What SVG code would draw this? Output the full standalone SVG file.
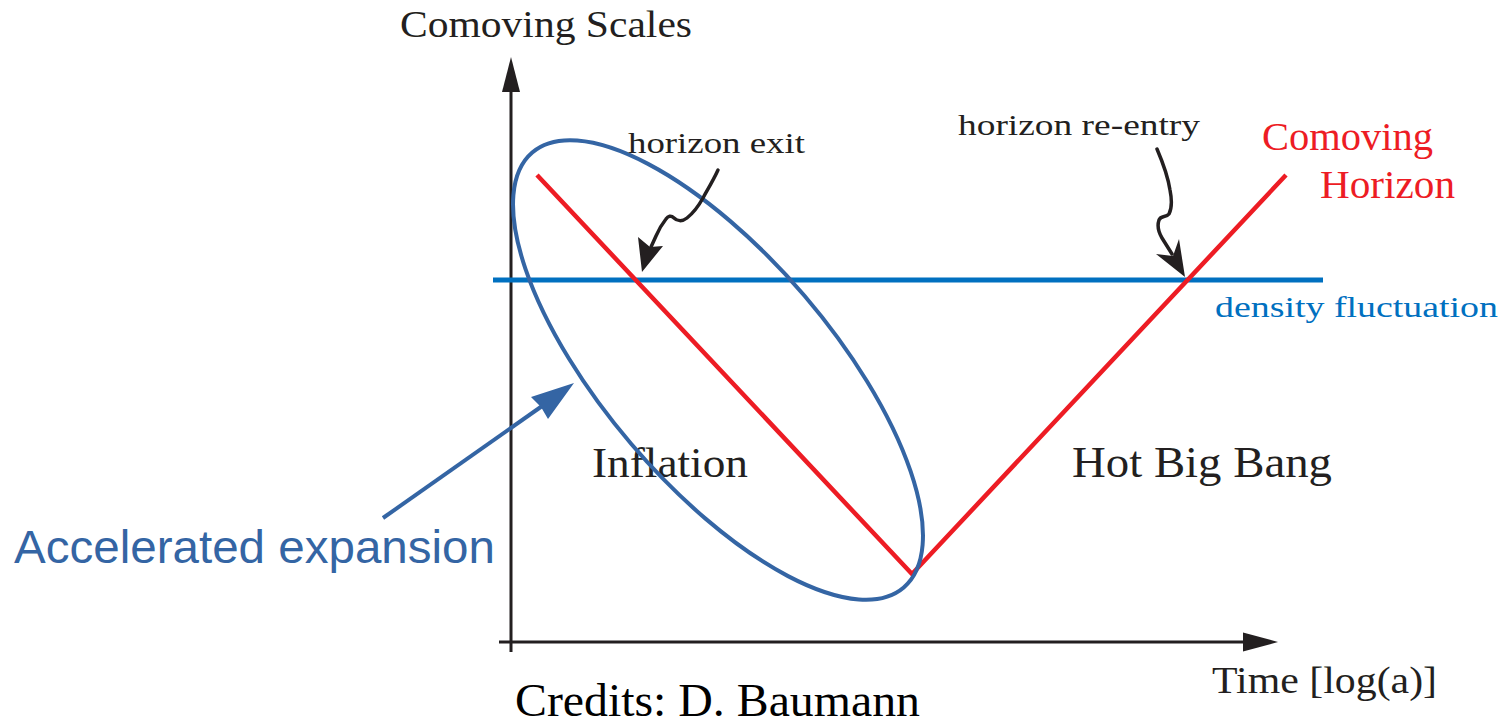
<svg xmlns="http://www.w3.org/2000/svg" width="1504" height="725" viewBox="0 0 1504 725">
<style>
.serif{font-family:"Liberation Serif","Times New Roman",serif;fill:#231F20}
.sans{font-family:"Liberation Sans",Arial,sans-serif}
.ax{stroke:#231F20;stroke-width:3;fill:none}
.blk{stroke:#231F20;stroke-width:3.5;fill:none;stroke-linecap:round}
.head{fill:#231F20}
</style>
<rect width="1504" height="725" fill="#ffffff"/>
<g id="axes">
<line class="ax" x1="511" y1="652" x2="511" y2="90"/>
<polygon class="head" points="511,57 502,92 520,92"/>
<line class="ax" x1="499" y1="642" x2="1245" y2="642"/>
<polygon class="head" points="1278,642 1243,632.5 1243,651.5"/>
<text class="serif" x="400" y="37" font-size="37" textLength="292" lengthAdjust="spacingAndGlyphs">Comoving Scales</text>
<text class="serif" x="1212" y="693" font-size="38" textLength="225" lengthAdjust="spacingAndGlyphs">Time [log(a)]</text>
</g>
<g id="labels">
<text class="serif" x="592" y="477" font-size="43" textLength="156" lengthAdjust="spacingAndGlyphs">Inflation</text>
<text class="serif" x="1072" y="477" font-size="44" textLength="260" lengthAdjust="spacingAndGlyphs">Hot Big Bang</text>
<text class="serif" x="515" y="716" font-size="47" style="fill:#000" textLength="405" lengthAdjust="spacingAndGlyphs">Credits: D. Baumann</text>
</g>
<g id="density-fluctuation">
<line x1="493" y1="280" x2="1323" y2="280" stroke="#0070C0" stroke-width="5"/>
<text x="1215" y="317" font-size="30" class="serif" style="fill:#0070C0" textLength="283" lengthAdjust="spacingAndGlyphs">density fluctuation</text>
</g>
<g id="comoving-horizon">
<polyline points="537,175 912,574 1286,175" fill="none" stroke="#ED1C24" stroke-width="4.5"/>
<text x="1262" y="150" font-size="39" class="serif" style="fill:#ED1C24" textLength="171" lengthAdjust="spacingAndGlyphs">Comoving</text>
<text x="1320" y="198" font-size="39" class="serif" style="fill:#ED1C24" textLength="135" lengthAdjust="spacingAndGlyphs">Horizon</text>
</g>
<g id="inflation-ellipse">
<ellipse cx="718" cy="370" rx="286" ry="114" transform="rotate(49.5 718 370)" fill="none" stroke="#3465A4" stroke-width="4"/>
</g>
<g id="horizon-exit">
<text class="serif" x="628" y="153" font-size="29" textLength="177" lengthAdjust="spacingAndGlyphs">horizon exit</text>
</g>
<g id="horizon-reentry">
<text class="serif" x="958" y="135" font-size="29" textLength="242" lengthAdjust="spacingAndGlyphs">horizon re-entry</text>
</g>
<g id="connectors">
<path class="blk" d="M718,170 C712,183 706,192 703,198 C698,207 692,214 687,218 C682,222 677,221 674,218 C671,215 668,216 666,219 C662,224 659,229 656,236 L651,247"/>
<polygon class="head" points="642,272 638,237 650,247 663,246"/>
<path class="blk" d="M1157,149 C1163,163 1168,177 1170,190 C1172,200 1172,208 1169,214 C1166,218 1161,215 1159,220 C1157,226 1159,233 1162,238 L1172,254"/>
<polygon class="head" points="1185,277 1156,254 1173,256 1179,239"/>
<line x1="383" y1="518" x2="545" y2="404" stroke="#3465A4" stroke-width="4"/>
<polygon points="574,383 531,397 541,407 548,419" fill="#3465A4"/>
</g>
<g id="accelerated-expansion">
<text class="sans" x="14" y="563" font-size="46" fill="#3465A4" textLength="481" lengthAdjust="spacingAndGlyphs">Accelerated expansion</text>
</g>
</svg>
